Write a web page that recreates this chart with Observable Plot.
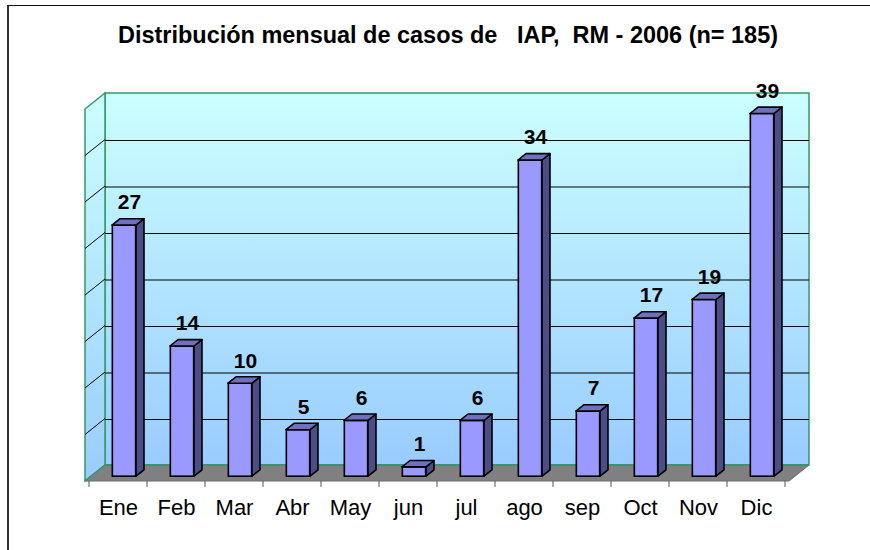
<!DOCTYPE html>
<html>
<head>
<meta charset="utf-8">
<script src="https://cdn.jsdelivr.net/npm/d3@7"></script>
<script src="https://cdn.jsdelivr.net/npm/@observablehq/plot@0.6"></script>
<style>
  html, body { margin: 0; padding: 0; background: #fff; overflow: hidden; }
  svg { display: block; }
</style>
</head>
<body>
<svg id="title" width="870" height="60">
  <line x1="8" y1="60" x2="8" y2="5" stroke="#333" stroke-width="2"></line>
  <line x1="7" y1="5.5" x2="870" y2="5.5" stroke="#111" stroke-width="1"></line>
  <text x="118" y="43" font-family="Arial, 'Liberation Sans', sans-serif" font-weight="bold"
        font-size="23" textLength="660" lengthAdjust="spacingAndGlyphs"
        style="white-space:pre">Distribución mensual de casos de   IAP,  RM - 2006 (n= 185)</text>
</svg>
<div id="chart"></div>
<script>
// ---- data ----
const months = ["Ene", "Feb", "Mar", "Abr", "May", "jun", "jul", "ago", "sep", "Oct", "Nov", "Dic"];
const cases = [27, 14, 10, 5, 6, 1, 6, 34, 7, 17, 19, 39];
const yMax = 40;
const gridValues = [5, 10, 15, 20, 25, 30, 35];

const data = months.map((m, i) => ({month: m, cases: cases[i]}));

// ---- style / 3D geometry ----
const GREEN = "#339966";
const WALL_DX = 20, WALL_DY = -16;      // depth of back wall
const BAR_DX = 6, BAR_DY = -4.8;        // front face of bars (depth offset)
const SIDE_DX = 8, SIDE_DY = -6.4;      // bar depth
const BAR_W = 24;

function walls(index, scales, values, dim) {
  const x0 = dim.marginLeft, x1 = dim.width - dim.marginRight;
  const y = scales.y;
  const yb = y(0), yt = y(yMax);
  const g = d3.create("svg:g");
  // outer frame (left edge continues from the title area)
  g.append("line").attr("x1", 8).attr("x2", 8).attr("y1", 0).attr("y2", dim.height)
    .attr("stroke", "#333").attr("stroke-width", 2);
  const defs = g.append("defs");
  const lg = defs.append("linearGradient").attr("id", "wallgrad")
    .attr("x1", 0).attr("y1", 0).attr("x2", 0).attr("y2", 1);
  lg.append("stop").attr("offset", "0%").attr("stop-color", "#CCFFFF");
  lg.append("stop").attr("offset", "100%").attr("stop-color", "#99CCFF");
  // back wall
  g.append("rect")
    .attr("x", x0 + WALL_DX).attr("y", yt + WALL_DY)
    .attr("width", x1 - x0).attr("height", yb - yt)
    .attr("fill", "url(#wallgrad)").attr("stroke", GREEN).attr("stroke-width", 1.5);
  // left wall
  g.append("path")
    .attr("d", `M${x0},${yt}L${x0 + WALL_DX},${yt + WALL_DY}L${x0 + WALL_DX},${yb + WALL_DY}L${x0},${yb}Z`)
    .attr("fill", "url(#wallgrad)").attr("stroke", GREEN).attr("stroke-width", 1.5);
  // left wall grid diagonals
  for (const v of gridValues) {
    g.append("line")
      .attr("x1", x0).attr("y1", y(v))
      .attr("x2", x0 + WALL_DX).attr("y2", y(v) + WALL_DY)
      .attr("stroke", "#000").attr("stroke-width", 1);
  }
  // floor
  g.append("path")
    .attr("d", `M${x0},${yb}L${x1},${yb}L${x1 + WALL_DX},${yb + WALL_DY}L${x0 + WALL_DX},${yb + WALL_DY}Z`)
    .attr("fill", "#808080").attr("stroke", "#6a6a6a").attr("stroke-width", 1);
  g.append("line")
    .attr("x1", x0 + WALL_DX).attr("y1", yb + WALL_DY)
    .attr("x2", x1 + WALL_DX).attr("y2", yb + WALL_DY)
    .attr("stroke", GREEN).attr("stroke-width", 1.5);
  g.append("line")
    .attr("x1", x0).attr("y1", yb).attr("x2", x0 + WALL_DX).attr("y2", yb + WALL_DY)
    .attr("stroke", GREEN).attr("stroke-width", 1.5);
  // category ticks at band boundaries
  const step = scales.x(months[1]) - scales.x(months[0]);
  const bounds = months.map(m => scales.x(m)).concat([scales.x(months[months.length - 1]) + step]);
  for (const bx of bounds) {
    g.append("line").attr("x1", bx).attr("x2", bx).attr("y1", yb).attr("y2", yb + 6)
      .attr("stroke", "#555").attr("stroke-width", 1);
  }
  return g.node();
}

function barFaces(index, scales) {
  const x = scales.x, y = scales.y;
  const step = x(months[1]) - x(months[0]);
  const inset = (step - BAR_W) / 2;
  const g = d3.create("svg:g").attr("stroke", "#000").attr("stroke-width", 1.6).attr("stroke-linejoin", "round");
  for (const d of data) {
    const xl = x(d.month) + inset + BAR_DX, xr = xl + BAR_W;
    const yt = y(d.cases) + BAR_DY, yb = y(0) + BAR_DY;
    g.append("path")
      .attr("d", `M${xr},${yb}L${xr + SIDE_DX},${yb + SIDE_DY}L${xr + SIDE_DX},${yt + SIDE_DY}L${xr},${yt}Z`)
      .attr("fill", "#4D4D85");
    g.append("path")
      .attr("d", `M${xl},${yt}L${xr},${yt}L${xr + SIDE_DX},${yt + SIDE_DY}L${xl + SIDE_DX},${yt + SIDE_DY}Z`)
      .attr("fill", "#7070C0");
  }
  return g.node();
}

const step0 = (789 - 85) / months.length;
const inset0 = (step0 - BAR_W) / 2;

const chart = Plot.plot({
  width: 870,
  height: 490,
  marginLeft: 85,
  marginRight: 81,
  marginTop: 49,
  marginBottom: 69,
  style: {fontFamily: "Arial, 'Liberation Sans', sans-serif", fontSize: "22px", background: "transparent", overflow: "visible", color: "#000"},
  x: {domain: months, padding: 0, label: null},
  y: {domain: [0, yMax], axis: null},
  marks: [
    walls,
    Plot.ruleY(gridValues, {y: d => d, dx: WALL_DX, dy: WALL_DY + 0.5, stroke: "#000", strokeWidth: 1}),
    Plot.barY(data, {x: "month", y: "cases", fill: "#9999FF", stroke: "#000", strokeWidth: 1.6,
      insetLeft: inset0, insetRight: inset0, dx: BAR_DX, dy: BAR_DY}),
    barFaces,
    Plot.text(data, {x: "month", y: "cases", text: d => String(d.cases), dx: 11, dy: -21,
      lineAnchor: "bottom", fontSize: 21, fontWeight: "bold", fill: "#000"}),
    Plot.axisX({tickSize: 0, tickPadding: 18, fontSize: 22, label: null, fill: "#000"})
  ]
});
document.getElementById("chart").appendChild(chart);
</script>
</body>
</html>
